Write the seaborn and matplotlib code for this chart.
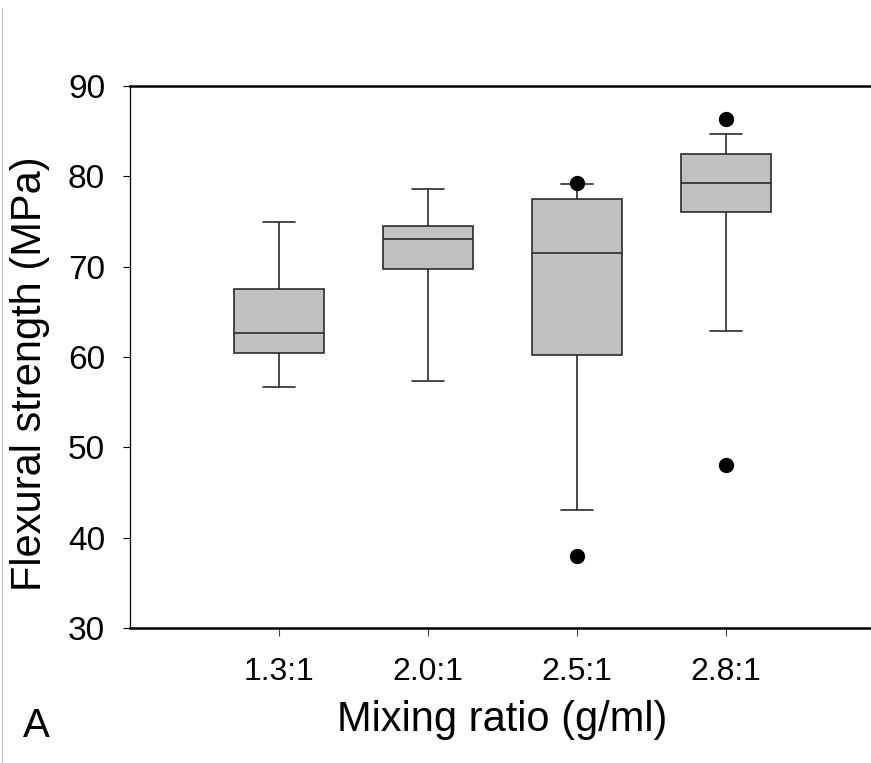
import numpy as np
import pandas as pd
import matplotlib
matplotlib.use("Agg")
import matplotlib.pyplot as plt
from matplotlib.lines import Line2D
import seaborn as sns

# Summary statistics per mixing ratio (MPa)
groups = ["1.3:1", "2.0:1", "2.5:1", "2.8:1"]
whisker_low = [56.7, 57.3, 43.1, 62.9]   # 10th percentile
q1 = [60.4, 69.7, 60.2, 76.1]
median = [62.7, 73.1, 71.5, 79.3]
q3 = [67.5, 74.5, 77.5, 82.5]
whisker_high = [74.9, 78.6, 79.1, 84.7]  # 90th percentile
outlier_low = [None, None, 38.0, 48.0]
outlier_high = [None, None, 79.3, 86.3]

# Expand each summary into a 13-value sample whose 10/25/50/75/90th
# percentiles reproduce the statistics above.
rows = []
for g, wl, a, m, b, wh, ol, oh in zip(groups, whisker_low, q1, median, q3,
                                      whisker_high, outlier_low, outlier_high):
    sample = [ol if ol is not None else wl, wl, wl, a, a, a, m, b, b, b,
              wh, wh, oh if oh is not None else wh]
    rows += [(g, v) for v in sample]
df = pd.DataFrame(rows, columns=["ratio", "strength"])

sns.set_theme(style="white")
plt.rcParams["font.family"] = ["Liberation Sans", "DejaVu Sans"]
plt.rcParams["text.color"] = "black"
plt.rcParams["axes.labelcolor"] = "black"
plt.rcParams["xtick.color"] = "black"
plt.rcParams["ytick.color"] = "black"

W, H = 871, 763
fig = plt.figure(figsize=(W / 100, H / 100), dpi=100)
ax = fig.add_axes([130 / W, (H - 628) / H, (875 - 130) / W, (628 - 86) / H])

edge = "#2b2b2b"
sns.boxplot(data=df, x="ratio", y="strength", order=groups, ax=ax,
            whis=(10, 90), width=0.6, color="#c0c0c0", saturation=1,
            linecolor=edge, linewidth=1.2, fliersize=10,
            capwidths=0.215,
            flierprops=dict(marker="o", markerfacecolor="black",
                            markeredgecolor="black", markersize=10))

ax.set_xlim(-1, 4)
ax.set_ylim(30, 90)
ax.set_yticks(np.arange(30, 91, 10))

ax.spines["right"].set_visible(False)
for side in ("top", "bottom"):
    ax.spines[side].set_linewidth(1.8)
    ax.spines[side].set_color("black")
ax.spines["left"].set_linewidth(0.9)
ax.spines["left"].set_color("black")

ax.tick_params(axis="y", direction="out", length=5, width=0.8,
               color="black", labelcolor="black", labelsize=24, pad=13,
               left=True)
ax.tick_params(axis="x", direction="out", length=6, width=0.8,
               color="#444444", labelcolor="black", labelsize=23, pad=15,
               bottom=True)

ax.set_xlabel("Mixing ratio (g/ml)", fontsize=30, labelpad=9, color="black")
ax.set_ylabel("Flexural strength (MPa)", fontsize=30, color="black")
ax.yaxis.set_label_coords(-0.108, 0.47)

fig.text(23 / W, 1 - 737 / H, "A", fontsize=29, ha="left", va="baseline",
         color="black")

# thin frame line along the left edge of the panel
fig.add_artist(Line2D([1.5 / W, 1.5 / W], [0, 1 - 8 / H],
                      transform=fig.transFigure, color="#c8c8c8", lw=1))

fig.savefig("out.png", dpi=100, facecolor="white")
